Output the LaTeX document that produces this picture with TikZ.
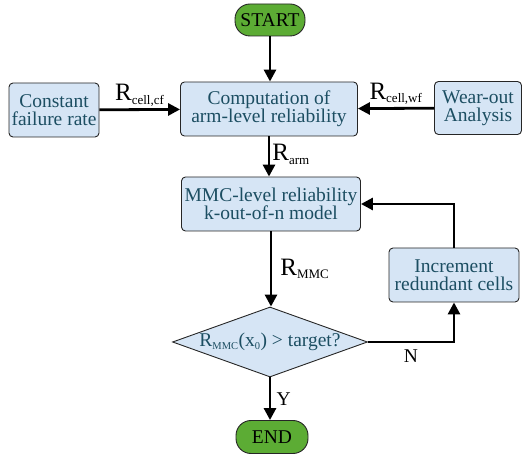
\documentclass[tikz,border=0pt]{standalone}
\usepackage{fontspec}
\setmainfont{Liberation Serif}
\usetikzlibrary{shapes.geometric,arrows.meta}
\definecolor{boxfill}{RGB}{214,229,245}
\definecolor{boxtext}{RGB}{28,78,98}
\definecolor{termfill}{RGB}{92,172,52}

\begin{document}
\begin{tikzpicture}[x=1pt,y=-1pt,
  box/.style={draw=black!85,fill=boxfill,text=boxtext,rounded corners=4pt,line width=0.9pt,
    align=center,inner sep=1pt,font=\fontsize{19.5}{18}\selectfont},
  term/.style={draw=black!85,fill=termfill,rounded corners=15pt,line width=0.9pt,
    minimum width=70pt,minimum height=32pt,inner sep=1pt,font=\fontsize{19.5}{18}\selectfont},
  arr/.style={line width=2.8pt,-{Triangle[length=12pt,width=12pt]}},
  lab/.style={font=\fontsize{25}{26}\selectfont,inner sep=2pt}]
  \useasboundingbox (0,0) rectangle (528,457);
  \node (start) at (270,20) [term] {START};
  \node (comp) at (269,109) [box,minimum width=177pt,minimum height=54pt] {Computation of\\arm-level reliability};
  \node (cfr) at (54,110) [box,minimum width=90pt,minimum height=54pt] {Constant\\failure rate};
  \node (wear) at (478,108) [box,minimum width=87pt,minimum height=53pt] {Wear-out\\Analysis};
  \node (mmc) at (271,204) [box,minimum width=179pt,minimum height=54pt] {MMC-level reliability\\k-out-of-n model};
  \node (incr) at (454,275) [box,minimum width=130pt,minimum height=54pt] {Increment\\redundant cells};
  \node (dec) at (270,342) [diamond,draw=black!85,fill=boxfill,text=boxtext,line width=0.9pt,
    aspect=2.8,inner sep=0pt,minimum width=195pt,minimum height=70pt,
    font=\fontsize{19.5}{18}\selectfont] {R\textsubscript{\fontsize{10.5}{10}\selectfont MMC}(x\textsubscript{\fontsize{10.5}{10}\selectfont 0}) {>} target?};
  \node (fin) at (272,437) [term,minimum width=72pt,minimum height=33pt] {END};
  \draw [arr] (start) -- (start|-comp.north);
  \draw [arr] (cfr) -- node[lab,above] {R\textsubscript{\fontsize{13}{13}\selectfont cell,cf}} (comp);
  \draw [arr] (wear) -- node[lab,above] {R\textsubscript{\fontsize{13}{13}\selectfont cell,wf}} (comp);
  \draw [arr] (comp) -- node[lab,right,yshift=2pt] {R\textsubscript{\fontsize{13}{13}\selectfont arm}} (comp|-mmc.north);
  \draw [arr] (mmc) -- node[lab,right,xshift=6pt] {R\textsubscript{\fontsize{13}{13}\selectfont MMC}} (mmc|-dec.north);
  \draw [arr] (dec.east) -| node[pos=0.25,below,yshift=-3pt,font=\fontsize{19.5}{18}\selectfont] {N} (incr.south);
  \draw [arr] (incr.north) |- (mmc.east);
  \draw [arr] (dec.south) -- node[right,xshift=2pt,font=\fontsize{19.5}{18}\selectfont] {Y} (dec.south|-fin.north);
\end{tikzpicture}
\end{document}
